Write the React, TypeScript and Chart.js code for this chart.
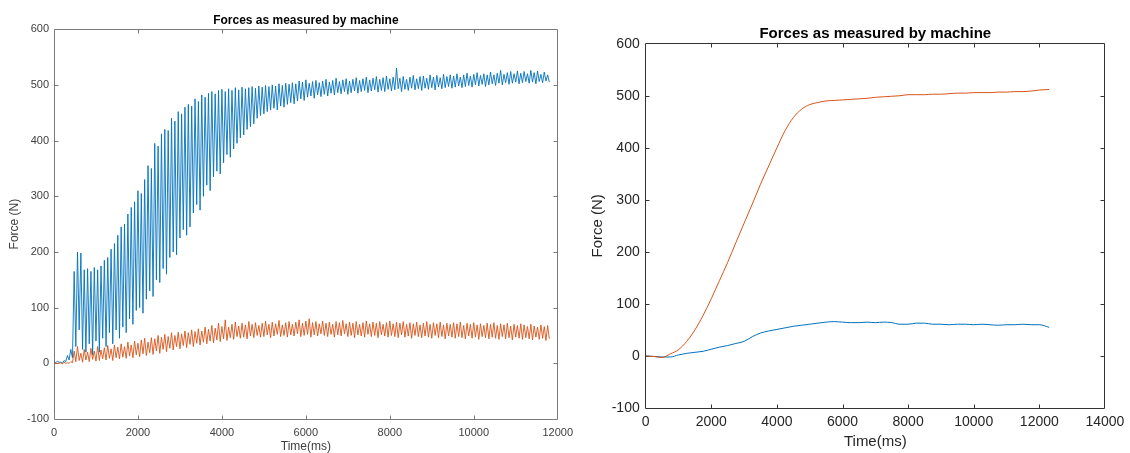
import React, { useEffect, useRef } from "react";
import { Chart, registerables } from "chart.js";

Chart.register(...registerables);

const FONT = '"Liberation Sans", Arial, Helvetica, sans-serif';
const TITLE = "Forces as measured by machine";
const X_LABEL = "Time(ms)";
const Y_LABEL = "Force (N)";
const BLUE = "#0072BD";
const ORANGE = "#D95319";

// ---------- Left chart: raw machine signal (sampled every 40 ms, alternating peak / trough) ----------
const LEFT_SAMPLE_MS = 40;

const leftBluePeaks = [
  3, 4, 2, 5, 14, 25, 165, 200, 198, 168,
  170, 165, 172, 168, 175, 185, 190, 205, 215, 230,
  245, 250, 268, 280, 290, 310, 305, 330, 355, 350,
  395, 390, 412, 420, 418, 440, 435, 452, 448, 460,
  465, 462, 475, 470, 482, 478, 485, 488, 484, 490,
  492, 488, 493, 490, 495, 491, 496, 493, 495, 497,
  494, 498, 496, 499, 497, 500, 498, 502, 499, 503,
  501, 504, 502, 507, 505, 509, 503, 506, 508, 504,
  507, 510, 505, 508, 512, 506, 509, 511, 507, 510,
  513, 508, 511, 514, 509, 512, 515, 510, 513, 516,
  511, 514, 530, 512, 515, 510, 514, 517, 511, 515,
  516, 512, 518, 514, 517, 513, 519, 515, 518, 516,
  520, 514, 518, 521, 516, 519, 522, 517, 520, 518,
  523, 518, 521, 526, 519, 522, 524, 520, 525, 521,
  524, 520, 526, 522, 525, 519, 523, 518,
];

const leftBlueTroughs = [
  1, 2, 0, 3, 6, 10, 30, 60, 25, 20,
  35, 15, 40, 20, 45, 30, 55, 35, 60, 45,
  65, 55, 80, 70, 95, 100, 90, 115, 130, 120,
  150, 145, 170, 160, 190, 200, 195, 225, 240, 230,
  245, 270, 285, 275, 300, 320, 310, 335, 345, 340,
  360, 375, 370, 385, 395, 405, 410, 420, 425, 430,
  440, 445, 448, 452, 455, 458, 455, 462, 460, 465,
  468, 466, 471, 475, 472, 478, 480, 476, 482, 479,
  483, 480, 485, 482, 486, 484, 488, 483, 486, 489,
  485, 488, 490, 486, 489, 491, 487, 490, 488, 492,
  489, 491, 493, 488, 492, 490, 494, 491, 493, 490,
  494, 492, 495, 491, 496, 493, 495, 497, 494, 496,
  498, 495, 497, 499, 496, 500, 498, 501, 497, 500,
  502, 499, 503, 500, 504, 501, 503, 505, 502, 504,
  506, 503, 505, 502, 506, 504, 507, 505,
];

const leftOrangePeaks = [
  1, 0, 1, 2, 1, 3, 22, 30, 18, 25,
  20, 27, 22, 30, 24, 28, 32, 26, 33, 29,
  35, 30, 38, 33, 40, 36, 42, 45, 38, 46,
  44, 50, 47, 52, 48, 55, 50, 56, 53, 58,
  55, 60, 57, 62, 58, 65, 61, 68, 63, 72,
  66, 78, 65, 70, 74, 67, 72, 69, 75, 70,
  73, 68, 72, 76, 70, 74, 71, 77, 69, 73,
  75, 70, 74, 78, 72, 76, 80, 73, 75, 71,
  76, 72, 74, 70, 75, 73, 77, 71, 74, 72,
  75, 70, 73, 76, 71, 74, 72, 75, 70, 73,
  76, 71, 74, 72, 75, 70, 73, 71, 74, 69,
  72, 75, 70, 73, 71, 74, 69, 72, 70, 73,
  71, 74, 68, 72, 70, 73, 69, 71, 68, 72,
  70, 73, 68, 71, 69, 72, 67, 70, 68, 71,
  69, 66, 70, 67, 65, 69, 66, 68,
];

const leftOrangeTroughs = [
  0, 0, -1, 0, 0, 1, 3, 5, 2, 6,
  3, 7, 4, 5, 8, 6, 9, 5, 10, 8,
  11, 9, 13, 10, 15, 12, 17, 14, 19, 16,
  22, 18, 25, 21, 27, 24, 30, 26, 32, 28,
  34, 30, 36, 33, 38, 35, 40, 37, 42, 39,
  44, 41, 46, 43, 48, 45, 47, 44, 49, 46,
  50, 47, 48, 51, 46, 49, 52, 48, 50, 47,
  51, 49, 53, 48, 50, 52, 47, 51, 49, 53,
  50, 48, 52, 47, 51, 49, 53, 48, 50, 46,
  51, 49, 47, 52, 48, 50, 46, 51, 49, 47,
  50, 48, 46, 51, 47, 49, 45, 50, 48, 46,
  49, 47, 45, 50, 46, 48, 44, 49, 47, 45,
  48, 46, 44, 49, 45, 47, 43, 48, 46, 44,
  47, 45, 43, 48, 44, 46, 42, 47, 45, 43,
  46, 44, 42, 47, 43, 45, 41, 44,
];

// ---------- Right chart: smoothed signal ----------
const rightTime = [
  0, 250, 500, 750, 1000, 1250, 1500, 1750, 2000, 2250,
  2500, 2750, 3000, 3250, 3500, 3750, 4000, 4250, 4500, 4750,
  5000, 5250, 5500, 5750, 6000, 6250, 6500, 6750, 7000, 7250,
  7500, 7750, 8000, 8250, 8500, 8750, 9000, 9250, 9500, 9750,
  10000, 10250, 10500, 10750, 11000, 11250, 11500, 11750, 12000, 12300,
];

const rightBlue = [
  0, -1, -2, -2, 2, 5, 7, 9, 13, 17,
  20, 24, 28, 37, 44, 48, 51, 54, 57, 59,
  61, 63, 65, 66, 65, 64, 64, 65, 64, 65,
  64, 61, 61, 63, 63, 61, 61, 60, 61, 61,
  60, 61, 60, 59, 60, 60, 61, 60, 60, 55,
];

const rightOrange = [
  0, -1, -3, 4, 12, 28, 50, 78, 110, 145,
  180, 218, 255, 292, 330, 365, 400, 433, 458, 474,
  483, 487, 490, 491, 492, 493, 494, 495, 497, 498,
  499, 500, 502, 502, 502, 503, 503, 504, 505, 505,
  506, 506, 506, 507, 507, 508, 508, 509, 511, 512,
];

const yMin = -100;
const yMax = 600;
const yStep = 100;
const xStep = 2000;
const leftXMax = 12000;
const rightXMax = 14000;

function interleave(peaks: number[], troughs: number[]) {
  const pts: { x: number; y: number }[] = [];
  for (let i = 0; i < peaks.length; i++) {
    pts.push({ x: 2 * i * LEFT_SAMPLE_MS, y: peaks[i] });
    pts.push({ x: (2 * i + 1) * LEFT_SAMPLE_MS, y: troughs[i] });
  }
  return pts;
}

function zipXY(xs: number[], ys: number[]) {
  return xs.map((x, i) => ({ x, y: ys[i] }));
}

const plainNumber = (v: any) => String(v);

const boxPlugin = {
  id: "matlabBox",
  beforeDatasetsDraw(chart: any, _args: any, opts: any) {
    const { ctx, chartArea: a, scales } = chart;
    const L = Math.floor(a.left) + 0.5;
    const R = Math.floor(a.right) + 0.5;
    const T = Math.floor(a.top) + 0.5;
    const B = Math.floor(a.bottom) + 0.5;
    const len = opts.tickLen ?? 4;
    ctx.save();
    ctx.strokeStyle = opts.color ?? "#262626";
    ctx.lineWidth = 1;
    ctx.beginPath();
    ctx.rect(L, T, R - L, B - T);
    scales.x.ticks.forEach((t: any) => {
      const px = Math.round(scales.x.getPixelForValue(t.value)) + 0.5;
      if (px <= L + 1 || px >= R - 1) return;
      ctx.moveTo(px, B);
      ctx.lineTo(px, B - len);
      ctx.moveTo(px, T);
      ctx.lineTo(px, T + len);
    });
    scales.y.ticks.forEach((t: any) => {
      const py = Math.round(scales.y.getPixelForValue(t.value)) + 0.5;
      if (py <= T + 1 || py >= B - 1) return;
      ctx.moveTo(L, py);
      ctx.lineTo(L + len, py);
      ctx.moveTo(R, py);
      ctx.lineTo(R - len, py);
    });
    ctx.stroke();
    ctx.restore();
  },
};

type Spec = {
  width: number;
  height: number;
  xMax: number;
  datasets: any[];
  tickFont: number;
  labelFont: number;
  titleFont: number;
  titlePad: { top: number; bottom: number };
  yTitlePad: number;
  xTitlePad: number;
  yAxisWidth: number;
  xAxisHeight: number;
  yTickPad: number;
  xTickPad: number;
  rightPad: number;
  axisColor: string;
  textColor: string;
};

function buildConfig(s: Spec): any {
  return {
    type: "line",
    data: { datasets: s.datasets },
    plugins: [boxPlugin],
    options: {
      responsive: false,
      animation: false,
      devicePixelRatio: 1,
      layout: { padding: { left: 0, right: s.rightPad, top: 0, bottom: 0 } },
      elements: { point: { radius: 0 } },
      plugins: {
        legend: { display: false },
        tooltip: { enabled: false },
        title: {
          display: true,
          text: TITLE,
          fullSize: false,
          color: "#000000",
          font: { family: FONT, size: s.titleFont, weight: "bold" },
          padding: s.titlePad,
        },
        matlabBox: { color: s.axisColor, tickLen: 4 },
      },
      scales: {
        x: {
          type: "linear",
          min: 0,
          max: s.xMax,
          grid: { display: false, drawTicks: false },
          border: { display: false },
          ticks: {
            stepSize: xStep,
            autoSkip: false,
            maxRotation: 0,
            padding: s.xTickPad,
            color: s.textColor,
            font: { family: FONT, size: s.tickFont },
            callback: plainNumber,
          },
          title: {
            display: true,
            text: X_LABEL,
            color: s.textColor,
            font: { family: FONT, size: s.labelFont },
            padding: { top: 0, bottom: s.xTitlePad },
          },
          afterFit: (scale: any) => {
            scale.height = s.xAxisHeight;
          },
        },
        y: {
          type: "linear",
          min: yMin,
          max: yMax,
          grid: { display: false, drawTicks: false },
          border: { display: false },
          ticks: {
            stepSize: yStep,
            padding: s.yTickPad,
            color: s.textColor,
            font: { family: FONT, size: s.tickFont },
            callback: plainNumber,
          },
          title: {
            display: true,
            text: Y_LABEL,
            color: s.textColor,
            font: { family: FONT, size: s.labelFont },
            padding: { top: s.yTitlePad, bottom: 0 },
          },
          afterFit: (scale: any) => {
            scale.width = s.yAxisWidth;
          },
        },
      },
    },
  };
}

function ChartCanvas({ spec, left }: { spec: Spec; left: number }) {
  const ref = useRef<HTMLCanvasElement | null>(null);
  useEffect(() => {
    if (!ref.current) return;
    const chart = new Chart(ref.current, buildConfig(spec));
    return () => chart.destroy();
  }, []);
  return (
    <canvas
      ref={ref}
      width={spec.width}
      height={spec.height}
      style={{ position: "absolute", left, top: 0, width: spec.width, height: spec.height }}
    />
  );
}

const leftSpec: Spec = {
  width: 580,
  height: 453,
  xMax: leftXMax,
  datasets: [
    {
      label: "Force 1",
      data: interleave(leftBluePeaks, leftBlueTroughs),
      borderColor: BLUE,
      borderWidth: 0.9,
      tension: 0,
      order: 2,
    },
    {
      label: "Force 2",
      data: interleave(leftOrangePeaks, leftOrangeTroughs),
      borderColor: ORANGE,
      borderWidth: 0.9,
      tension: 0,
      order: 1,
    },
  ],
  tickFont: 11,
  labelFont: 12,
  titleFont: 12,
  titlePad: { top: 13, bottom: 1.8 },
  yTitlePad: 7.8,
  xTitlePad: -1,
  yAxisWidth: 54,
  xAxisHeight: 34,
  yTickPad: 5,
  xTickPad: 7,
  rightPad: 17,
  axisColor: "#7a7a7a",
  textColor: "#404040",
};

const rightSpec: Spec = {
  width: 550,
  height: 453,
  xMax: rightXMax,
  datasets: [
    {
      label: "Force 1",
      data: zipXY(rightTime, rightBlue),
      borderColor: BLUE,
      borderWidth: 1,
      cubicInterpolationMode: "monotone",
      order: 2,
    },
    {
      label: "Force 2",
      data: zipXY(rightTime, rightOrange),
      borderColor: ORANGE,
      borderWidth: 1,
      cubicInterpolationMode: "monotone",
      order: 1,
    },
  ],
  tickFont: 14,
  labelFont: 15,
  titleFont: 15,
  titlePad: { top: 25, bottom: 0.7 },
  yTitlePad: 9,
  xTitlePad: 2,
  yAxisWidth: 65.7,
  xAxisHeight: 45,
  yTickPad: 6,
  xTickPad: 5.6,
  rightPad: 25,
  axisColor: "#333333",
  textColor: "#262626",
};

export default function App() {
  return (
    <div
      style={{
        position: "absolute",
        left: 0,
        top: 0,
        width: 1130,
        height: 453,
        overflow: "hidden",
        background: "#ffffff",
      }}
    >
      <ChartCanvas spec={leftSpec} left={0} />
      <ChartCanvas spec={rightSpec} left={580} />
    </div>
  );
}
